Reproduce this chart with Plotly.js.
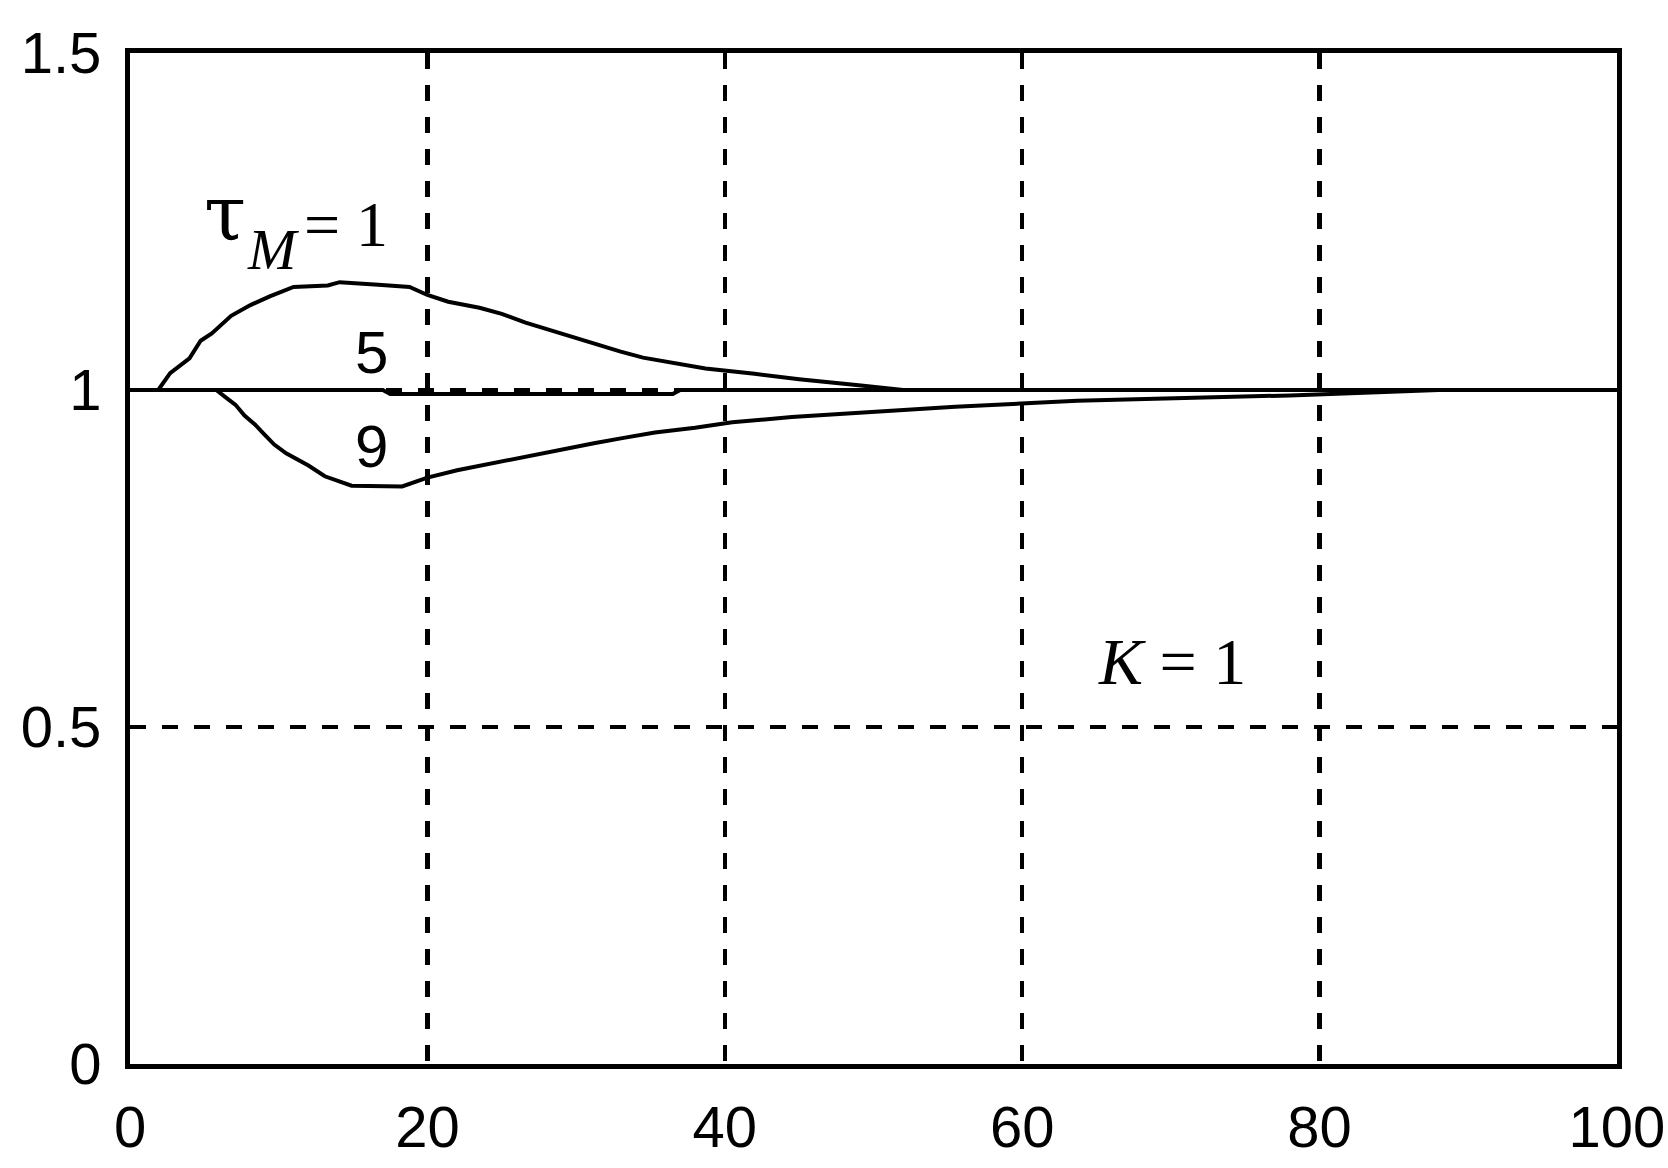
<!DOCTYPE html>
<html>
<head>
<meta charset="utf-8">
<script src="https://cdn.plot.ly/plotly-3.0.1.min.js"></script>
<style>
  body { margin: 0; background: #fff; }
  #plot { width: 1668px; height: 1168px; }
</style>
</head>
<body>
<div id="plot"></div>
<script>
// response curves, one per tau_M
let t1 = [0, 1.9, 2.7, 4.0, 4.75, 5.5, 6.8, 8.1, 9.4, 11.0, 13.3, 14.1, 16.7, 18.8, 20, 21.4, 23.5, 25, 26.6, 29.4, 31.2, 33, 34.5, 36.5, 38.7, 42, 45, 49, 52, 100];
let y1 = [1, 1, 1.025, 1.047, 1.073, 1.084, 1.110, 1.126, 1.139, 1.153, 1.155, 1.160, 1.156, 1.153, 1.141, 1.131, 1.122, 1.113, 1.100, 1.081, 1.068, 1.057, 1.048, 1.040, 1.032, 1.024, 1.016, 1.007, 1, 1];

let t5 = [0, 17, 17.5, 36.5, 37, 100];
let y5 = [1, 1, 0.994, 0.994, 1, 1];

let t9 = [0, 5.8, 6.5, 7.1, 7.7, 8.4, 9.0, 9.7, 10.5, 11.2, 12.0, 13.1, 14.1, 14.9, 18.3, 18.9, 20, 22, 24.5, 26.6, 29.2, 31.2, 33.2, 35.3, 38, 40.5, 44.5, 50, 55.5, 63.7, 78, 88, 100];
let y9 = [1, 1, 0.988, 0.978, 0.962, 0.949, 0.935, 0.919, 0.906, 0.898, 0.888, 0.872, 0.864, 0.858, 0.857, 0.862, 0.870, 0.881, 0.892, 0.902, 0.913, 0.921, 0.929, 0.937, 0.944, 0.952, 0.960, 0.968, 0.975, 0.984, 0.992, 1, 1];

// axis ticks
let xTicks = [0, 20, 40, 60, 80, 100];
let yTicks = [0, 0.5, 1, 1.5];
let yTickText = ["0", "0.5", "1", "1.5"];

let numFont = "'Liberation Sans', sans-serif";
let serif = "'Liberation Serif', serif";

function curve(x, y) {
    return {
        x: x,
        y: y,
        mode: "lines",
        type: "scatter",
        line: {color: "black", width: 4},
        hoverinfo: "skip"
    };
}

let data = [curve(t1, y1), curve(t5, y5), curve(t9, y9)];

let axisCommon = {
    showgrid: true,
    gridcolor: "black",
    gridwidth: 4.5,
    griddash: "16px,16px",
    showline: true,
    mirror: true,
    linecolor: "black",
    linewidth: 5,
    zeroline: false,
    ticks: "",
    tickfont: {family: numFont, size: 58, color: "black"}
};

// small helper for the plain text labels in the plot
function label(x, y, text, size, family) {
    return {x: x, y: y, text: text, showarrow: false,
            xanchor: "center", yanchor: "middle",
            font: {family: family, size: size, color: "black"}};
}

let layout = {
    width: 1668,
    height: 1168,
    margin: {l: 130, r: 51, t: 53, b: 104},
    paper_bgcolor: "white",
    plot_bgcolor: "white",
    showlegend: false,
    xaxis: Object.assign({}, axisCommon, {
        range: [0, 100],
        tickmode: "array",
        tickvals: xTicks,
        ticktext: xTicks.map(String),
        ticklabelstandoff: 8
    }),
    yaxis: Object.assign({}, axisCommon, {
        range: [0, 1.5],
        tickmode: "array",
        tickvals: yTicks,
        ticktext: yTickText,
        ticklabelstandoff: 12
    }),
    annotations: [
        label(6.4, 1.262, "τ", 76, "'DejaVu Serif', serif"),
        label(9.6, 1.209, "<i>M</i>", 58, serif),
        label(14.5, 1.246, "= 1", 64, serif),
        label(16.25, 1.055, "5", 60, numFont),
        label(16.25, 0.916, "9", 60, numFont),
        label(70.1, 0.597, "<i>K</i> = 1", 66, serif)
    ]
};

Plotly.newPlot("plot", data, layout, {staticPlot: true});
</script>
</body>
</html>
